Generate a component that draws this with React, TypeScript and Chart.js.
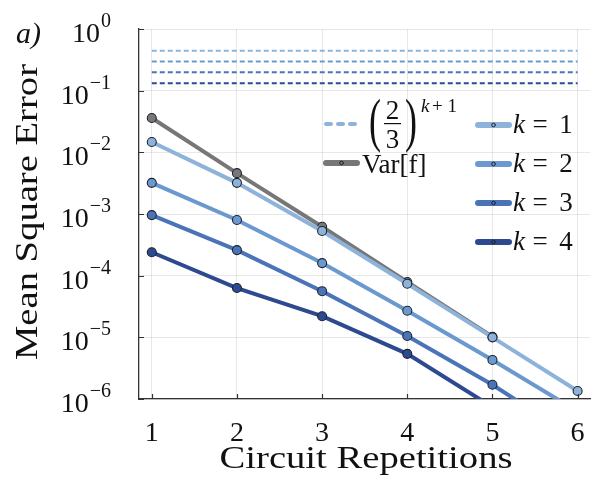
import { useEffect, useRef } from 'react';
import { Chart, registerables } from 'chart.js';

Chart.register(...registerables);

// ---- data ----
const repetitions = [1, 2, 3, 4, 5, 6];
const varF = [0.036, 0.0046, 6.2e-4, 7.9e-5, 1.02e-5];
const mseK1 = [0.0147, 0.0032, 5.3e-4, 7.4e-5, 1.0e-5, 1.35e-6];
const mseK2 = [0.0032, 8.0e-4, 1.6e-4, 2.7e-5, 4.3e-6, 6.3e-7];
const mseK3 = [9.6e-4, 2.6e-4, 5.6e-5, 1.05e-5, 1.7e-6, 2.2e-7];
const mseK4 = [2.4e-4, 6.3e-5, 2.2e-5, 5.4e-6, 7.4e-7];
const boundX = [1, 6];
const boundValues = [0.444, 0.296, 0.198, 0.132]; // (2/3)^(k+1), k = 1..4
const kLabels = ['1', '2', '3', '4'];
const xTicks = [1, 2, 3, 4, 5, 6];
const yTickExponents = [0, -1, -2, -3, -4, -5, -6];

const kColors = ['#8db3da', '#6b99cf', '#4b74b8', '#2d4990'];
const grayColor = '#777777';
const markerEdge = '#1f2430';
const SERIF = '"Liberation Serif", "Times New Roman", serif';

function pts(vals: number[]) {
  return vals.map((v, i) => ({ x: repetitions[i], y: v }));
}

function text(
  ctx: CanvasRenderingContext2D,
  s: string,
  x: number,
  y: number,
  size: number,
  align: CanvasTextAlign = 'left',
  italic = false,
) {
  ctx.font = `${italic ? 'italic ' : ''}${size}px ${SERIF}`;
  ctx.textAlign = align;
  ctx.textBaseline = 'alphabetic';
  ctx.fillText(s, x, y);
}

function fitText(ctx: CanvasRenderingContext2D, s: string, x: number, y: number, size: number, target: number) {
  ctx.font = `${size}px ${SERIF}`;
  const w = ctx.measureText(s).width;
  const sx = target / w;
  ctx.save();
  ctx.translate(x, y);
  ctx.scale(sx, 1);
  ctx.textAlign = 'center';
  ctx.textBaseline = 'alphabetic';
  ctx.fillText(s, 0, 0);
  ctx.restore();
}

function sample(
  ctx: CanvasRenderingContext2D,
  x1: number,
  x2: number,
  y: number,
  color: string,
  width: number,
  dash: number[] | null,
  marker: boolean,
) {
  ctx.save();
  ctx.strokeStyle = color;
  ctx.lineWidth = width;
  ctx.lineCap = 'round';
  ctx.setLineDash(dash || []);
  ctx.beginPath();
  ctx.moveTo(x1, y);
  ctx.lineTo(x2, y);
  ctx.stroke();
  if (marker) {
    ctx.setLineDash([]);
    ctx.beginPath();
    ctx.arc((x1 + x2) / 2, y, 1.8, 0, Math.PI * 2);
    ctx.fillStyle = color;
    ctx.fill();
    ctx.lineWidth = 1;
    ctx.strokeStyle = markerEdge;
    ctx.stroke();
  }
  ctx.restore();
}

const decor = {
  id: 'decor',
  afterDraw(chart: any) {
    const { ctx, chartArea: a, scales } = chart;
    const xs = scales.x;
    const ys = scales.y;
    ctx.save();
    // inward tick marks
    ctx.strokeStyle = '#333';
    ctx.lineWidth = 1.2;
    ctx.beginPath();
    xTicks.forEach((v) => {
      const px = Math.round(xs.getPixelForValue(v)) + 0.5;
      ctx.moveTo(px, a.bottom);
      ctx.lineTo(px, a.bottom - 5);
    });
    yTickExponents.forEach((e) => {
      const py = Math.round(ys.getPixelForValue(Math.pow(10, e))) + 0.5;
      ctx.moveTo(a.left, py);
      ctx.lineTo(a.left + 5, py);
    });
    ctx.stroke();

    ctx.fillStyle = '#111';
    // y tick labels 10^e
    yTickExponents.forEach((e) => {
      const py = ys.getPixelForValue(Math.pow(10, e));
      const sup = e === 0 ? '0' : '\u2212' + String(-e);
      ctx.font = `20px ${SERIF}`;
      const supW = ctx.measureText(sup).width;
      const right = 111;
      text(ctx, sup, right - supW, py - 2, 20);
      text(ctx, '10', right - supW - 1, py + 13, 28, 'right');
    });
    // x tick labels
    xTicks.forEach((v) => {
      text(ctx, String(v), xs.getPixelForValue(v), 441, 28, 'center');
    });
    // axis titles
    fitText(ctx, 'Circuit Repetitions', 366, 468, 32, 293);
    ctx.save();
    ctx.translate(37, 212);
    ctx.rotate(-Math.PI / 2);
    fitText(ctx, 'Mean Square Error', 0, 0, 32, 296);
    ctx.restore();
    // panel label
    text(ctx, 'a)', 16, 43, 30, 'left', true);

    // ---- legend ----
    // (2/3)^(k+1)
    sample(ctx, 326, 356, 124, kColors[0], 4, [5, 7], false);
    ctx.save();
    ctx.font = `36px ${SERIF}`;
    ctx.translate(0, 140);
    ctx.scale(1, 1.62);
    ctx.textAlign = 'left';
    ctx.fillText('(', 369, 0);
    ctx.fillText(')', 405, 0);
    ctx.restore();
    text(ctx, '2', 392.5, 119, 27, 'center');
    text(ctx, '3', 392.5, 148, 27, 'center');
    ctx.fillRect(384, 123, 17, 1.2);
    text(ctx, 'k', 421, 112, 19, 'left', true);
    text(ctx, '+ 1', 432, 112, 19, 'left');
    // Var[f]
    sample(ctx, 326, 357, 163, grayColor, 6, null, true);
    text(ctx, 'Var[f]', 362, 173, 27);
    // k = n
    kLabels.forEach((lab, i) => {
      const yy = 125 + i * 39;
      sample(ctx, 478, 509, yy, kColors[i], 6, null, true);
      text(ctx, 'k', 513, yy + 8, 27, 'left', true);
      text(ctx, '=', 540, yy + 8, 27, 'center');
      text(ctx, lab, 566, yy + 8, 27, 'center');
    });
    ctx.restore();
  },
};

export default function App() {
  const ref = useRef<HTMLCanvasElement>(null);
  useEffect(() => {
    if (!ref.current) return;
    const kSeries = [mseK1, mseK2, mseK3, mseK4];
    const datasets: any[] = [];
    kSeries.forEach((s, i) => {
      datasets.push({
        label: 'k = ' + kLabels[i],
        data: pts(s),
        borderColor: kColors[i],
        backgroundColor: kColors[i],
        borderWidth: 4,
        pointRadius: 4.5,
        pointBorderColor: markerEdge,
        pointBorderWidth: 1.1,
        pointBackgroundColor: kColors[i],
        order: 1,
      });
    });
    datasets.push({
      label: 'Var[f]',
      data: pts(varF),
      borderColor: grayColor,
      backgroundColor: grayColor,
      borderWidth: 4,
      pointRadius: 4.5,
      pointBorderColor: markerEdge,
      pointBorderWidth: 1.1,
      pointBackgroundColor: grayColor,
      order: 3,
    });
    boundValues.forEach((v, i) => {
      datasets.push({
        label: 'bound k=' + kLabels[i],
        data: boundX.map((x) => ({ x, y: v })),
        borderColor: kColors[i],
        borderWidth: 2,
        borderDash: [5, 3],
        pointRadius: 0,
        order: 2,
      });
    });

    const chart = new Chart(ref.current, {
      type: 'line',
      data: { datasets },
      plugins: [decor],
      options: {
        animation: false,
        responsive: false,
        events: [],
        layout: { padding: { left: 139, right: 0, top: 29, bottom: 83 } },
        elements: { line: { tension: 0 } },
        plugins: { legend: { display: false }, tooltip: { enabled: false } },
        scales: {
          x: {
            type: 'linear',
            min: 0.85,
            max: 6.15,
            afterBuildTicks: (axis: any) => {
              axis.ticks = xTicks.map((v) => ({ value: v }));
            },
            ticks: { display: false },
            grid: { color: 'rgba(0,0,0,0.09)', lineWidth: 1, drawTicks: false },
            border: { display: true, color: '#333', width: 1.3 },
          },
          y: {
            type: 'logarithmic',
            min: 1e-6,
            max: 1,
            afterBuildTicks: (axis: any) => {
              axis.ticks = yTickExponents.map((e) => ({ value: Math.pow(10, e) }));
            },
            ticks: { display: false },
            grid: { color: 'rgba(0,0,0,0.09)', lineWidth: 1, drawTicks: false },
            border: { display: true, color: '#333', width: 1.3 },
          },
        },
      },
    });
    return () => chart.destroy();
  }, []);

  return (
    <div style={{ position: 'fixed', left: 0, top: 0, width: 596, height: 482, background: '#fff' }}>
      <canvas ref={ref} width={596} height={482} />
    </div>
  );
}
